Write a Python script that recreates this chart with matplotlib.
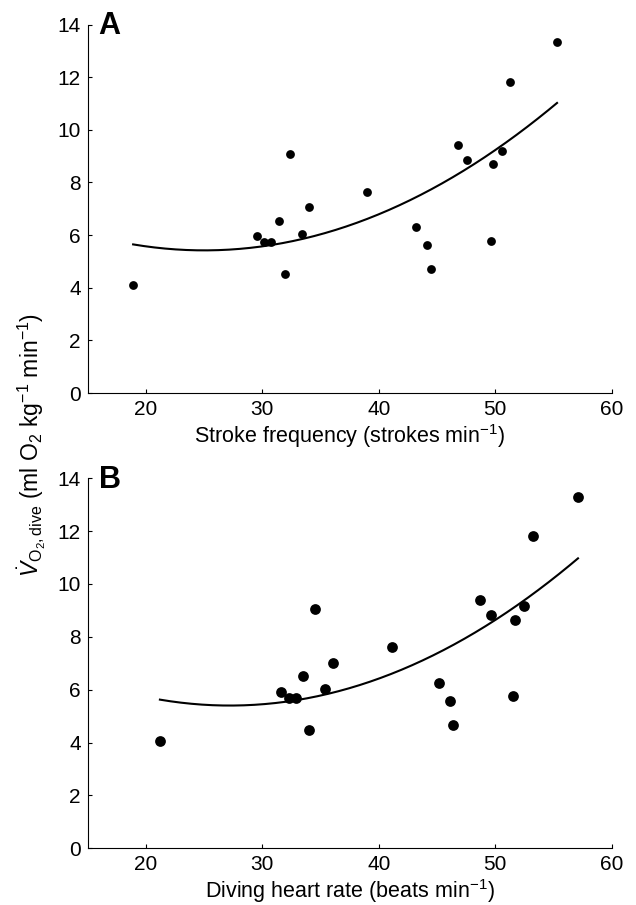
import numpy as np
import matplotlib
matplotlib.use('Agg')
import matplotlib.pyplot as plt

# police type Arial
police = 'Liberation Sans'
plt.rcParams['font.family'] = [police, 'DejaVu Sans']
plt.rcParams['mathtext.fontset'] = 'custom'
plt.rcParams['mathtext.rm'] = police
plt.rcParams['mathtext.it'] = police + ':italic'

# donnees panneau A : frequence de nage
freq = [18.9, 29.5, 30.1, 30.7, 31.4, 31.9, 32.4, 33.4, 34.0, 39.0,
        43.2, 44.1, 44.5, 46.8, 47.6, 49.6, 49.8, 50.6, 51.3, 55.3]
vo2_a = [4.09, 5.95, 5.73, 5.73, 6.55, 4.51, 9.08, 6.04, 7.07, 7.64,
         6.31, 5.63, 4.70, 9.41, 8.87, 5.78, 8.69, 9.20, 11.83, 13.33]

# donnees panneau B : frequence cardiaque
fc = [21.2, 31.6, 32.3, 32.9, 33.5, 34.0, 34.5, 35.4, 36.1, 41.1,
      45.2, 46.1, 46.4, 48.7, 49.6, 51.5, 51.7, 52.5, 53.2, 57.1]
vo2_b = [4.06, 5.93, 5.70, 5.70, 6.52, 4.48, 9.04, 6.02, 7.02, 7.60,
         6.27, 5.59, 4.67, 9.38, 8.84, 5.75, 8.65, 9.17, 11.80, 13.28]

# regressions quadratiques (ax2 + bx + c) et bornes
coef_a = [0.0061, -0.305, 9.2325]
borne_a = [18.9, 55.3]
coef_b = [0.00623, -0.3389, 10.009]
borne_b = [21.2, 57.1]

xlab_a = 'Stroke frequency (strokes min$^{\\mathregular{-1}}$)'
xlab_b = 'Diving heart rate (beats min$^{\\mathregular{-1}}$)'
ylab = ('$\\dot{V}_{\\mathregular{O_2,dive}}$ (ml O$_{\\mathregular{2}}$ kg$^{\\mathregular{-1}}$ '
        'min$^{\\mathregular{-1}}$)')

fig = plt.figure(figsize=(6.36, 9.05), dpi=100)
ax1 = fig.add_axes([0.1379, 0.5657, 0.824, 0.4072])
ax2 = fig.add_axes([0.1379, 0.0627, 0.824, 0.4088])


def panneau(ax, x, y, coef, borne, lettre, xlab, taille):
    ax.scatter(x, y, s=taille, color='black', zorder=3, linewidths=0)
    xx = np.linspace(borne[0], borne[1], 200)
    ax.plot(xx, np.polyval(coef, xx), color='black', lw=1.5)
    ax.set_xlim(15, 60)
    ax.set_ylim(0, 14)
    ax.set_xticks([20, 30, 40, 50, 60])
    ax.set_yticks(range(0, 15, 2))
    ax.spines['top'].set_visible(False)
    ax.spines['right'].set_visible(False)
    ax.spines['left'].set_linewidth(0.8)
    ax.spines['bottom'].set_linewidth(0.8)
    # ticks vers l'interieur comme sur la figure publiee
    ax.tick_params(direction='in', length=3, width=0.8, labelsize=15, pad=5)
    ax.set_xlabel(xlab, fontsize=15.5, labelpad=2)
    ax.text(0.021, 1.036, lettre, transform=ax.transAxes, fontsize=22,
            fontweight='bold', va='top', ha='left')


panneau(ax1, freq, vo2_a, coef_a, borne_a, 'A', xlab_a, 40)
panneau(ax2, fc, vo2_b, coef_b, borne_b, 'B', xlab_b, 60)

fig.text(0.05, 0.508, ylab, rotation=90, va='center', ha='center', fontsize=16.5)

fig.savefig('out.png', dpi=100)
